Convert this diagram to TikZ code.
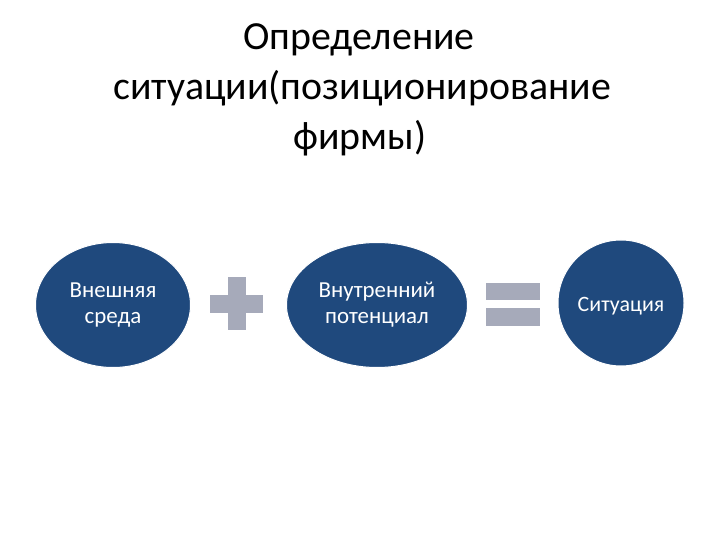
\documentclass[tikz,border=0pt]{standalone}
\usepackage{fontspec}
\setmainfont{Carlito}
\usetikzlibrary{shapes.geometric}
\definecolor{ovalblue}{RGB}{31,73,125}
\definecolor{signgrey}{RGB}{166,170,186}
\tikzset{
  oval/.style={ellipse, fill=ovalblue, draw=white, line width=1bp, text=white,
    align=center, inner sep=0pt, font=\fontsize{23}{26}\selectfont},
  titleline/.style={anchor=base, font=\fontsize{40}{48}\selectfont},
}
\begin{document}
\begin{tikzpicture}[x=1bp, y=-1bp]
	\useasboundingbox (0,0) rectangle (720,540);
	% titre
	\node[titleline] (t1) at (359,50) {Определение};
	\node[titleline] (t2) at (362,100) {ситуации(позиционирование};
	\node[titleline] (t3) at (360,150) {фирмы)};
	% ovales
	\node[oval, minimum width=155bp, minimum height=125bp] (ext) at (113,305)
		{Внешняя\\среда};
	\node[oval, minimum width=181bp, minimum height=125bp] (int) at (377,305)
		{Внутренний\\потенциал};
	\node[oval, minimum width=126bp, minimum height=126bp, text height=20bp,
		font=\fontsize{22}{26}\selectfont] (sit) at (621,303) {Ситуация};
	% plus
	\fill[signgrey] (228,277) rectangle (246,330);
	\fill[signgrey] (210,295) rectangle (263,313);
	% egal
	\fill[signgrey] (486,283) rectangle (540,300);
	\fill[signgrey] (486,308) rectangle (540,326);
\end{tikzpicture}
\end{document}
